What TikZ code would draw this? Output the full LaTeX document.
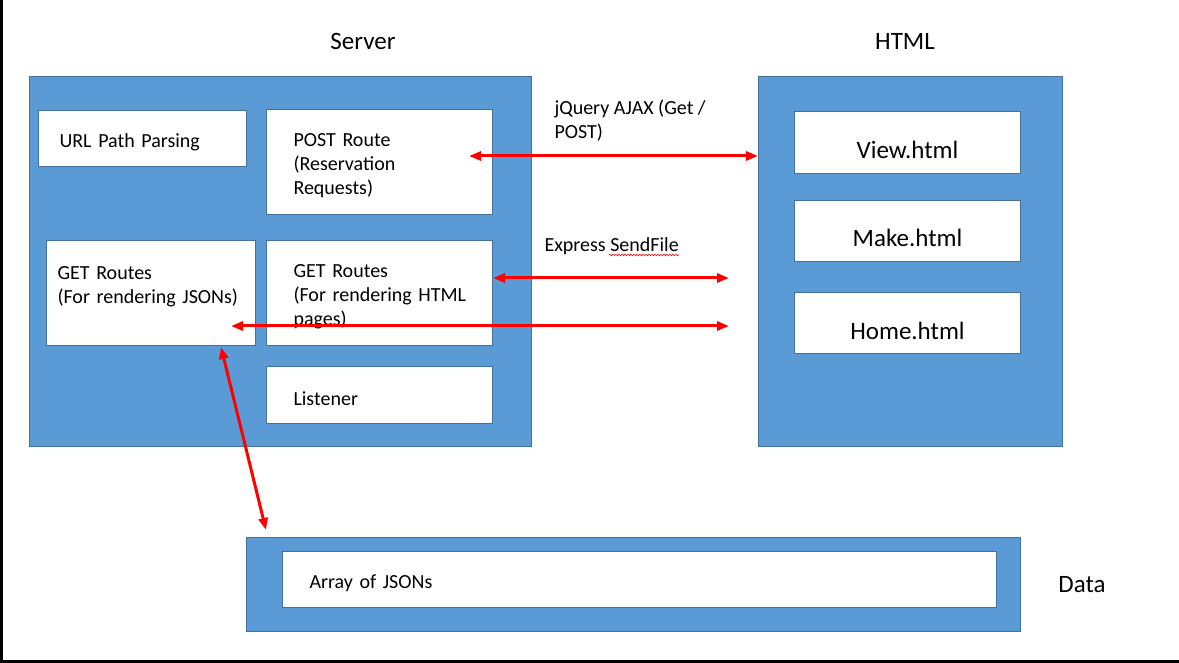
\documentclass[tikz,border=0pt]{standalone}
\usepackage{fontspec}
\setmainfont{Carlito}
\usetikzlibrary{arrows.meta,positioning,decorations.pathmorphing}
\definecolor{boxblue}{HTML}{5B9BD5}
\definecolor{edgeblue}{HTML}{41719C}

\begin{document}
\begin{tikzpicture}[x=1pt,y=-1pt,>={Triangle[length=12pt,width=9pt]},
	group/.style={draw=edgeblue,fill=boxblue,line width=1.2pt,anchor=north west,inner sep=0pt},
	part/.style={draw=edgeblue,fill=white,line width=1pt,anchor=north west,align=left,inner ysep=0pt,font=\fontsize{20}{24}\selectfont,execute at begin node={\rule{0pt}{21pt}}},
	page/.style={draw=edgeblue,fill=white,line width=1pt,anchor=north west,align=center,inner ysep=0pt,minimum width=226pt,text height=36pt,text depth=4pt,font=\fontsize{25}{30}\selectfont},
	title/.style={font=\fontsize{25}{30}\selectfont},
	note/.style={anchor=west,align=left,font=\fontsize{20}{24}\selectfont},
	link/.style={<->,red,line width=3pt}]
		\fill[white] (0,0) rectangle (1179,663);
		\useasboundingbox (0,0) rectangle (1179,663);
		\fill[black] (0,0) rectangle (3,663);
		\fill[black] (0,660) rectangle (1179,663);
		
		\node[title] (server title) at (363,41) {Server};
		\node[title] (html title) at (905,41) {HTML};
		\node[title] (data title) at (1082,585) {Data};
		
		\node[group,minimum width=502pt,minimum height=370pt] (server) at (29,76) {};
		\node[group,minimum width=304pt,minimum height=370pt] (html) at (758,76) {};
		\node[group,minimum width=774pt,minimum height=94pt] (data) at (246,537) {};
		
		\node[part,minimum height=56pt,inner xsep=21pt,text width=166pt] (url) at (38,110) {URL Path Parsing};
		\node[part,minimum height=105pt,inner xsep=27pt,text width=172pt] (post) at (266,109) {POST Route\\(Reservation\\Requests)};
		\node[part,minimum height=105pt,inner xsep=11pt,text width=187pt] (get json) at (46,240) {GET Routes\\(For rendering JSONs)\\\mbox{}};
		\node[part,minimum height=105pt,inner xsep=27pt,text width=172pt] (get html) at (266,240) {GET Routes\\\mbox{(For rendering HTML}\\pages)};
		\node[part,minimum height=57pt,inner xsep=27pt,text width=172pt] (listener) at (266,366) {Listener};
		\node[part,minimum height=56pt,inner xsep=27pt,text width=660pt] (array) at (282,551) {Array of JSONs};
		
		\node[page,minimum height=62pt] (view) at (794,111) {View.html};
		\node[page,minimum height=61pt] (make) at (794,200) {Make.html};
		\node[page,minimum height=61pt] (home) at (794,292) {Home.html};
		
		\node[note] (ajax) at (551,121) {jQuery AJAX (Get /\\POST)};
		\node[note] (sendfile) at (541,246) {Express SendFile};
		\draw[red,line width=0.6pt,decorate,decoration={snake,amplitude=0.8pt,segment length=3pt}] (609,255) -- (679,255);
		
		\coordinate (post end) at (469,156);
		\coordinate (html end) at (729,278);
		\coordinate (json end) at (231,326);
		\coordinate (page end) at (729,326);
		\coordinate (json foot) at (221,347);
		\coordinate (data top) at (266,530);
		
		\path (post end) edge[link] (post end -| html.west)
		    (get html.east |- html end) edge[link] (html end)
		    (json end) edge[link] (page end)
		    (json foot) edge[link] (data top);
\end{tikzpicture}
\end{document}
